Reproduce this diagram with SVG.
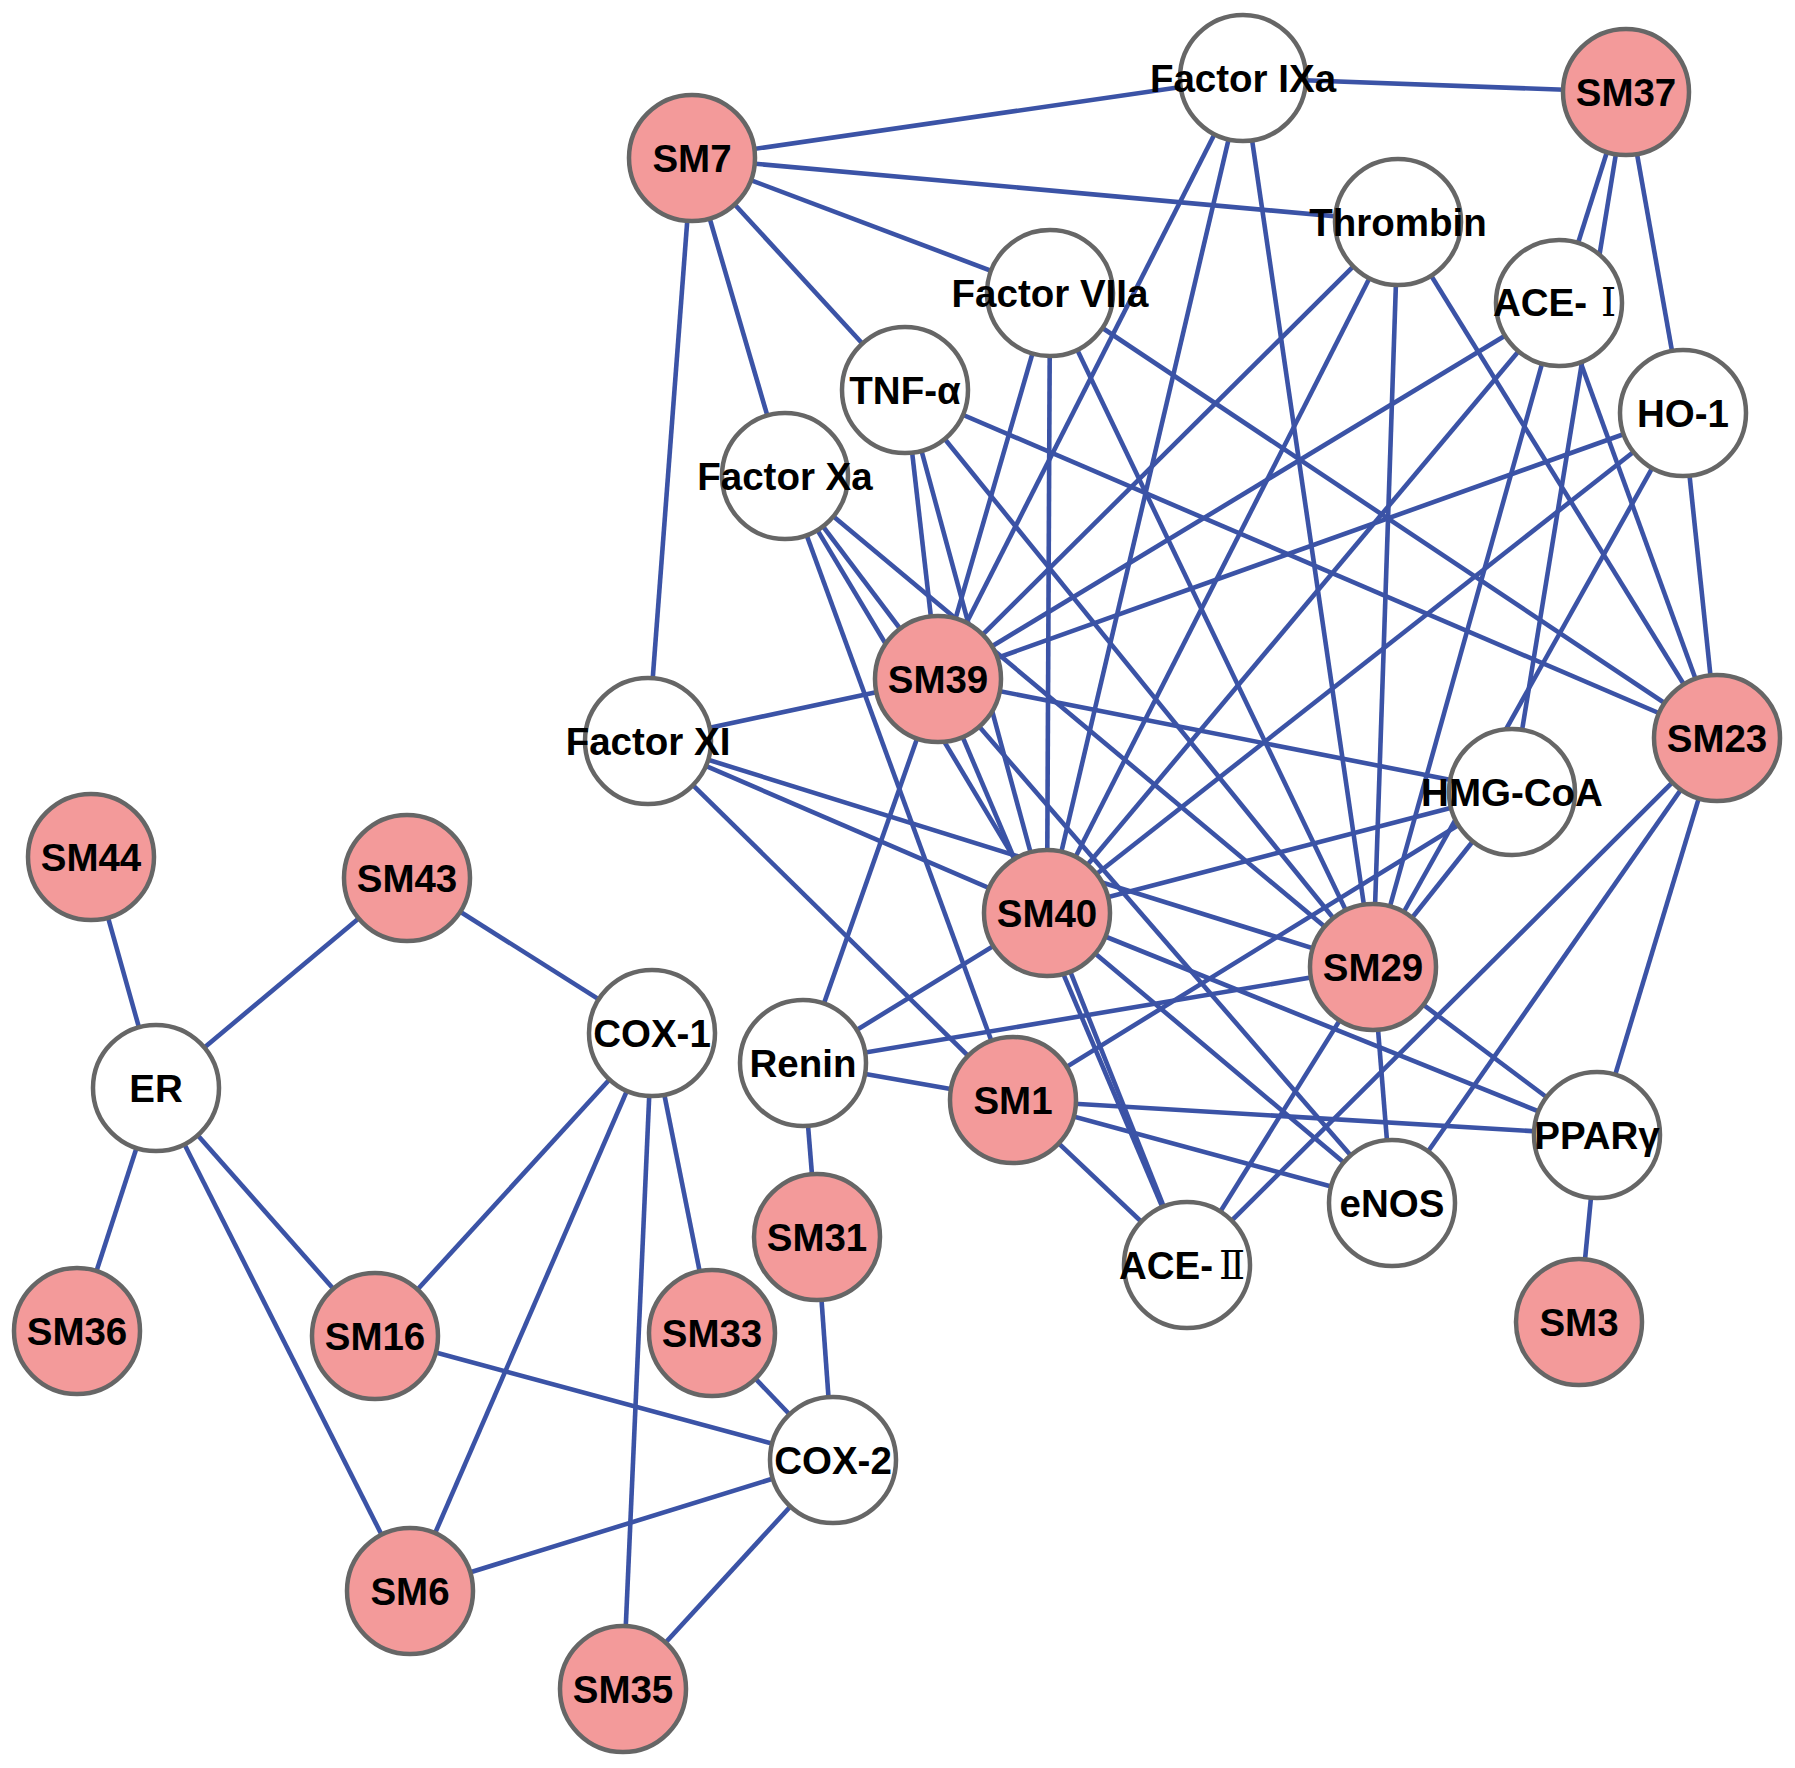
<svg xmlns="http://www.w3.org/2000/svg" width="1795" height="1768" viewBox="0 0 1795 1768">
<style>
.e line{stroke:#3B53A6;stroke-width:4.6;}
.n circle{stroke:#666;stroke-width:4.5;fill:#fff;}
.n.c circle{fill:#F39A9A;}
.n text{font-family:"Liberation Sans",Arial,sans-serif;font-weight:bold;font-size:38.5px;fill:#000;text-anchor:middle;}
.n text.s{text-anchor:start;}
.rn{font-family:"Liberation Serif","DejaVu Serif","Noto Sans CJK SC",serif;font-weight:normal;}
</style>
<rect width="1795" height="1768" fill="#fff"/>
<g id="connectors" class="e">
<line x1="692" y1="158" x2="1243" y2="78"/>
<line x1="692" y1="158" x2="1398" y2="222"/>
<line x1="692" y1="158" x2="1050" y2="293"/>
<line x1="692" y1="158" x2="905" y2="390"/>
<line x1="692" y1="158" x2="785" y2="476"/>
<line x1="692" y1="158" x2="648" y2="741"/>
<line x1="1626" y1="92" x2="1243" y2="78"/>
<line x1="1626" y1="92" x2="1559" y2="303"/>
<line x1="1626" y1="92" x2="1512" y2="792"/>
<line x1="1626" y1="92" x2="1683" y2="413"/>
<line x1="938" y1="679" x2="1243" y2="78"/>
<line x1="938" y1="679" x2="1398" y2="222"/>
<line x1="938" y1="679" x2="1050" y2="293"/>
<line x1="938" y1="679" x2="905" y2="390"/>
<line x1="938" y1="679" x2="1559" y2="303"/>
<line x1="938" y1="679" x2="1683" y2="413"/>
<line x1="938" y1="679" x2="785" y2="476"/>
<line x1="938" y1="679" x2="648" y2="741"/>
<line x1="938" y1="679" x2="1512" y2="792"/>
<line x1="938" y1="679" x2="803" y2="1063"/>
<line x1="938" y1="679" x2="1392" y2="1203"/>
<line x1="938" y1="679" x2="1187" y2="1265"/>
<line x1="1047" y1="913" x2="1243" y2="78"/>
<line x1="1047" y1="913" x2="1398" y2="222"/>
<line x1="1047" y1="913" x2="1050" y2="293"/>
<line x1="1047" y1="913" x2="905" y2="390"/>
<line x1="1047" y1="913" x2="1559" y2="303"/>
<line x1="1047" y1="913" x2="1683" y2="413"/>
<line x1="1047" y1="913" x2="785" y2="476"/>
<line x1="1047" y1="913" x2="648" y2="741"/>
<line x1="1047" y1="913" x2="1512" y2="792"/>
<line x1="1047" y1="913" x2="803" y2="1063"/>
<line x1="1047" y1="913" x2="1597" y2="1135"/>
<line x1="1047" y1="913" x2="1392" y2="1203"/>
<line x1="1047" y1="913" x2="1187" y2="1265"/>
<line x1="1373" y1="967" x2="1243" y2="78"/>
<line x1="1373" y1="967" x2="1398" y2="222"/>
<line x1="1373" y1="967" x2="1050" y2="293"/>
<line x1="1373" y1="967" x2="905" y2="390"/>
<line x1="1373" y1="967" x2="1559" y2="303"/>
<line x1="1373" y1="967" x2="1683" y2="413"/>
<line x1="1373" y1="967" x2="785" y2="476"/>
<line x1="1373" y1="967" x2="648" y2="741"/>
<line x1="1373" y1="967" x2="1512" y2="792"/>
<line x1="1373" y1="967" x2="803" y2="1063"/>
<line x1="1373" y1="967" x2="1597" y2="1135"/>
<line x1="1373" y1="967" x2="1392" y2="1203"/>
<line x1="1373" y1="967" x2="1187" y2="1265"/>
<line x1="1717" y1="738" x2="1398" y2="222"/>
<line x1="1717" y1="738" x2="1050" y2="293"/>
<line x1="1717" y1="738" x2="905" y2="390"/>
<line x1="1717" y1="738" x2="1559" y2="303"/>
<line x1="1717" y1="738" x2="1683" y2="413"/>
<line x1="1717" y1="738" x2="1597" y2="1135"/>
<line x1="1717" y1="738" x2="1392" y2="1203"/>
<line x1="1717" y1="738" x2="1187" y2="1265"/>
<line x1="1013" y1="1100" x2="785" y2="476"/>
<line x1="1013" y1="1100" x2="648" y2="741"/>
<line x1="1013" y1="1100" x2="1512" y2="792"/>
<line x1="1013" y1="1100" x2="803" y2="1063"/>
<line x1="1013" y1="1100" x2="1597" y2="1135"/>
<line x1="1013" y1="1100" x2="1392" y2="1203"/>
<line x1="1013" y1="1100" x2="1187" y2="1265"/>
<line x1="817" y1="1237" x2="803" y2="1063"/>
<line x1="817" y1="1237" x2="833" y2="1460"/>
<line x1="1579" y1="1322" x2="1597" y2="1135"/>
<line x1="156" y1="1088" x2="91" y2="857"/>
<line x1="156" y1="1088" x2="407" y2="878"/>
<line x1="156" y1="1088" x2="77" y2="1331"/>
<line x1="156" y1="1088" x2="375" y2="1336"/>
<line x1="156" y1="1088" x2="410" y2="1591"/>
<line x1="652" y1="1033" x2="407" y2="878"/>
<line x1="652" y1="1033" x2="375" y2="1336"/>
<line x1="652" y1="1033" x2="410" y2="1591"/>
<line x1="652" y1="1033" x2="623" y2="1689"/>
<line x1="652" y1="1033" x2="712" y2="1333"/>
<line x1="833" y1="1460" x2="712" y2="1333"/>
<line x1="833" y1="1460" x2="375" y2="1336"/>
<line x1="833" y1="1460" x2="410" y2="1591"/>
<line x1="833" y1="1460" x2="623" y2="1689"/>
</g>
<g id="nodes">
<g id="n-SM7" class="n c"><circle cx="692" cy="158" r="63"/><text x="692" y="172">SM7</text></g>
<g id="n-FactorIXa" class="n"><circle cx="1243" cy="78" r="63"/><text x="1243" y="92">Factor IXa</text></g>
<g id="n-SM37" class="n c"><circle cx="1626" cy="92" r="63"/><text x="1626" y="106">SM37</text></g>
<g id="n-Thrombin" class="n"><circle cx="1398" cy="222" r="63"/><text x="1398" y="236">Thrombin</text></g>
<g id="n-ACE1" class="n"><circle cx="1559" cy="303" r="63"/><text class="s" x="1493" y="316">ACE-<tspan class="rn" dx="14">Ⅰ</tspan></text></g>
<g id="n-FactorVIIa" class="n"><circle cx="1050" cy="293" r="63"/><text x="1050" y="307">Factor VIIa</text></g>
<g id="n-TNFa" class="n"><circle cx="905" cy="390" r="63"/><text x="905" y="404">TNF-α</text></g>
<g id="n-HO1" class="n"><circle cx="1683" cy="413" r="63"/><text x="1683" y="427">HO-1</text></g>
<g id="n-FactorXa" class="n"><circle cx="785" cy="476" r="63"/><text x="785" y="490">Factor Xa</text></g>
<g id="n-SM39" class="n c"><circle cx="938" cy="679" r="63"/><text x="938" y="693">SM39</text></g>
<g id="n-FactorXI" class="n"><circle cx="648" cy="741" r="63"/><text x="648" y="755">Factor XI</text></g>
<g id="n-SM23" class="n c"><circle cx="1717" cy="738" r="63"/><text x="1717" y="752">SM23</text></g>
<g id="n-HMGCoA" class="n"><circle cx="1512" cy="792" r="63"/><text x="1512" y="806">HMG-CoA</text></g>
<g id="n-SM44" class="n c"><circle cx="91" cy="857" r="63"/><text x="91" y="871">SM44</text></g>
<g id="n-SM43" class="n c"><circle cx="407" cy="878" r="63"/><text x="407" y="892">SM43</text></g>
<g id="n-SM40" class="n c"><circle cx="1047" cy="913" r="63"/><text x="1047" y="927">SM40</text></g>
<g id="n-SM29" class="n c"><circle cx="1373" cy="967" r="63"/><text x="1373" y="981">SM29</text></g>
<g id="n-COX1" class="n"><circle cx="652" cy="1033" r="63"/><text x="652" y="1047">COX-1</text></g>
<g id="n-Renin" class="n"><circle cx="803" cy="1063" r="63"/><text x="803" y="1077">Renin</text></g>
<g id="n-ER" class="n"><circle cx="156" cy="1088" r="63"/><text x="156" y="1102">ER</text></g>
<g id="n-SM1" class="n c"><circle cx="1013" cy="1100" r="63"/><text x="1013" y="1114">SM1</text></g>
<g id="n-PPARg" class="n"><circle cx="1597" cy="1135" r="63"/><text x="1597" y="1149">PPARγ</text></g>
<g id="n-eNOS" class="n"><circle cx="1392" cy="1203" r="63"/><text x="1392" y="1217">eNOS</text></g>
<g id="n-SM31" class="n c"><circle cx="817" cy="1237" r="63"/><text x="817" y="1251">SM31</text></g>
<g id="n-ACE2" class="n"><circle cx="1187" cy="1265" r="63"/><text class="s" x="1119" y="1279">ACE-<tspan class="rn" dx="6">Ⅱ</tspan></text></g>
<g id="n-SM3" class="n c"><circle cx="1579" cy="1322" r="63"/><text x="1579" y="1336">SM3</text></g>
<g id="n-SM36" class="n c"><circle cx="77" cy="1331" r="63"/><text x="77" y="1345">SM36</text></g>
<g id="n-SM16" class="n c"><circle cx="375" cy="1336" r="63"/><text x="375" y="1350">SM16</text></g>
<g id="n-SM33" class="n c"><circle cx="712" cy="1333" r="63"/><text x="712" y="1347">SM33</text></g>
<g id="n-COX2" class="n"><circle cx="833" cy="1460" r="63"/><text x="833" y="1474">COX-2</text></g>
<g id="n-SM6" class="n c"><circle cx="410" cy="1591" r="63"/><text x="410" y="1605">SM6</text></g>
<g id="n-SM35" class="n c"><circle cx="623" cy="1689" r="63"/><text x="623" y="1703">SM35</text></g>
</g>
</svg>
